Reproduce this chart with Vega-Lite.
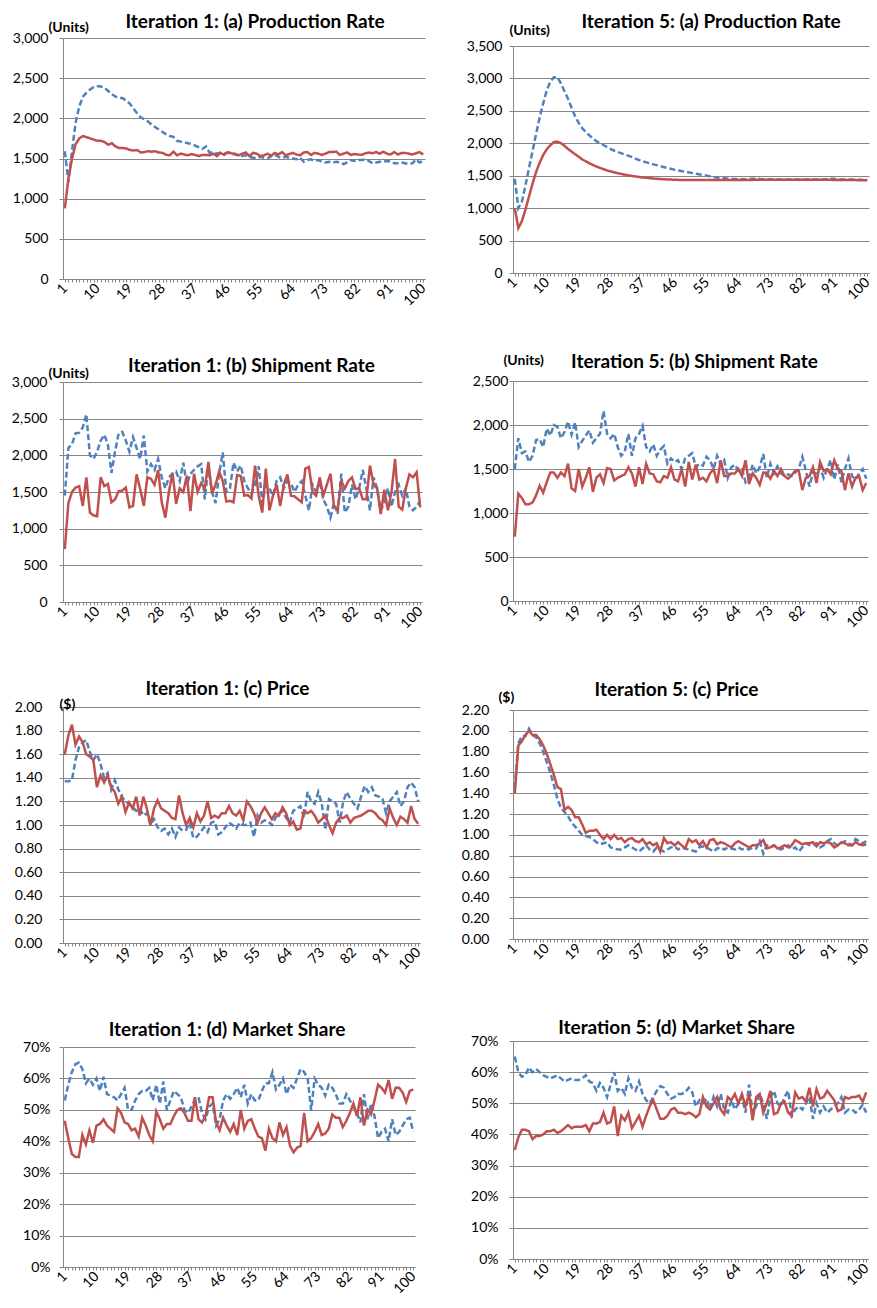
{
"$schema":"https://vega.github.io/schema/vega-lite/v6.json",
"padding":{"left":11,"top":12,"right":4,"bottom":4},
"config":{"font":"Lato","view":{"stroke":null},
"title":{"fontSize":19,"fontWeight":"bold","font":"Lato","color":"#000","frame":"group","anchor":"middle"},
"axis":{"labelFont":"Lato","labelFontSize":14,"labelColor":"#000","domainColor":"#868686","tickColor":"#868686","gridColor":"#868686","titleFont":"Lato","titleFontSize":14,"titleFontWeight":"bold","titleColor":"#000"},
"axisY":{"grid":true,"tickSize":4},
"axisX":{"grid":false,"tickSize":3,"labelPadding":4}},
"datasets":{
"a1":[{"t":1,"b":1590,"r":880},{"t":2,"b":1210,"r":1250},{"t":3,"b":1600,"r":1500},{"t":4,"b":1950,"r":1680},{"t":5,"b":2150,"r":1750},{"t":6,"b":2270,"r":1780},{"t":7,"b":2320,"r":1765},{"t":8,"b":2360,"r":1750},{"t":9,"b":2390,"r":1735},{"t":10,"b":2400,"r":1720},{"t":11,"b":2395,"r":1720},{"t":12,"b":2380,"r":1705},{"t":13,"b":2340,"r":1670},{"t":14,"b":2300,"r":1690},{"t":15,"b":2270,"r":1650},{"t":16,"b":2260,"r":1630},{"t":17,"b":2250,"r":1630},{"t":18,"b":2220,"r":1625},{"t":19,"b":2180,"r":1605},{"t":20,"b":2120,"r":1600},{"t":21,"b":2060,"r":1605},{"t":22,"b":2010,"r":1575},{"t":23,"b":1990,"r":1580},{"t":24,"b":1960,"r":1590},{"t":25,"b":1920,"r":1585},{"t":26,"b":1890,"r":1590},{"t":27,"b":1860,"r":1575},{"t":28,"b":1830,"r":1570},{"t":29,"b":1800,"r":1545},{"t":30,"b":1780,"r":1540},{"t":31,"b":1770,"r":1585},{"t":32,"b":1720,"r":1540},{"t":33,"b":1710,"r":1560},{"t":34,"b":1700,"r":1550},{"t":35,"b":1690,"r":1540},{"t":36,"b":1680,"r":1555},{"t":37,"b":1660,"r":1545},{"t":38,"b":1640,"r":1530},{"t":39,"b":1620,"r":1545},{"t":40,"b":1650,"r":1545},{"t":41,"b":1570,"r":1540},{"t":42,"b":1580,"r":1560},{"t":43,"b":1560,"r":1530},{"t":44,"b":1570,"r":1570},{"t":45,"b":1560,"r":1545},{"t":46,"b":1570,"r":1580},{"t":47,"b":1560,"r":1565},{"t":48,"b":1550,"r":1560},{"t":49,"b":1540,"r":1540},{"t":50,"b":1530,"r":1560},{"t":51,"b":1540,"r":1575},{"t":52,"b":1520,"r":1530},{"t":53,"b":1510,"r":1570},{"t":54,"b":1500,"r":1560},{"t":55,"b":1520,"r":1530},{"t":56,"b":1510,"r":1540},{"t":57,"b":1500,"r":1560},{"t":58,"b":1530,"r":1535},{"t":59,"b":1550,"r":1570},{"t":60,"b":1520,"r":1550},{"t":61,"b":1510,"r":1580},{"t":62,"b":1520,"r":1540},{"t":63,"b":1510,"r":1555},{"t":64,"b":1500,"r":1570},{"t":65,"b":1490,"r":1550},{"t":66,"b":1510,"r":1540},{"t":67,"b":1460,"r":1575},{"t":68,"b":1480,"r":1580},{"t":69,"b":1490,"r":1545},{"t":70,"b":1470,"r":1570},{"t":71,"b":1480,"r":1560},{"t":72,"b":1460,"r":1545},{"t":73,"b":1450,"r":1560},{"t":74,"b":1460,"r":1580},{"t":75,"b":1450,"r":1580},{"t":76,"b":1460,"r":1585},{"t":77,"b":1450,"r":1545},{"t":78,"b":1430,"r":1560},{"t":79,"b":1450,"r":1575},{"t":80,"b":1480,"r":1545},{"t":81,"b":1470,"r":1555},{"t":82,"b":1480,"r":1550},{"t":83,"b":1480,"r":1545},{"t":84,"b":1490,"r":1565},{"t":85,"b":1470,"r":1575},{"t":86,"b":1440,"r":1565},{"t":87,"b":1450,"r":1580},{"t":88,"b":1460,"r":1560},{"t":89,"b":1460,"r":1585},{"t":90,"b":1470,"r":1560},{"t":91,"b":1460,"r":1550},{"t":92,"b":1440,"r":1580},{"t":93,"b":1440,"r":1550},{"t":94,"b":1450,"r":1570},{"t":95,"b":1440,"r":1570},{"t":96,"b":1430,"r":1560},{"t":97,"b":1440,"r":1550},{"t":98,"b":1490,"r":1565},{"t":99,"b":1450,"r":1580},{"t":100,"b":1470,"r":1550}],
"a5":[{"t":1,"b":1450,"r":1000},{"t":2,"b":1000,"r":693},{"t":3,"b":1100,"r":800},{"t":4,"b":1350,"r":980},{"t":5,"b":1620,"r":1180},{"t":6,"b":1880,"r":1380},{"t":7,"b":2150,"r":1560},{"t":8,"b":2400,"r":1700},{"t":9,"b":2620,"r":1820},{"t":10,"b":2820,"r":1910},{"t":11,"b":2950,"r":1970},{"t":12,"b":3020,"r":2020},{"t":13,"b":3020,"r":2025},{"t":14,"b":2920,"r":2000},{"t":15,"b":2800,"r":1960},{"t":16,"b":2680,"r":1910},{"t":17,"b":2540,"r":1870},{"t":18,"b":2410,"r":1830},{"t":19,"b":2310,"r":1790},{"t":20,"b":2230,"r":1750},{"t":21,"b":2170,"r":1720},{"t":22,"b":2120,"r":1690},{"t":23,"b":2070,"r":1665},{"t":24,"b":2030,"r":1640},{"t":25,"b":2000,"r":1620},{"t":26,"b":1970,"r":1600},{"t":27,"b":1940,"r":1580},{"t":28,"b":1910,"r":1565},{"t":29,"b":1885,"r":1550},{"t":30,"b":1865,"r":1538},{"t":31,"b":1845,"r":1526},{"t":32,"b":1825,"r":1515},{"t":33,"b":1805,"r":1505},{"t":34,"b":1785,"r":1496},{"t":35,"b":1760,"r":1488},{"t":36,"b":1740,"r":1480},{"t":37,"b":1720,"r":1473},{"t":38,"b":1705,"r":1467},{"t":39,"b":1690,"r":1461},{"t":40,"b":1675,"r":1456},{"t":41,"b":1660,"r":1452},{"t":42,"b":1645,"r":1448},{"t":43,"b":1630,"r":1445},{"t":44,"b":1615,"r":1442},{"t":45,"b":1605,"r":1440},{"t":46,"b":1590,"r":1438},{"t":47,"b":1580,"r":1436},{"t":48,"b":1570,"r":1435},{"t":49,"b":1560,"r":1434},{"t":50,"b":1550,"r":1434},{"t":51,"b":1540,"r":1433},{"t":52,"b":1530,"r":1433},{"t":53,"b":1520,"r":1433},{"t":54,"b":1510,"r":1433},{"t":55,"b":1500,"r":1433},{"t":56,"b":1490,"r":1433},{"t":57,"b":1480,"r":1433},{"t":58,"b":1470,"r":1433},{"t":59,"b":1465,"r":1433},{"t":60,"b":1460,"r":1433},{"t":61,"b":1455,"r":1434},{"t":62,"b":1450,"r":1434},{"t":63,"b":1448,"r":1434},{"t":64,"b":1446,"r":1434},{"t":65,"b":1445,"r":1435},{"t":66,"b":1445,"r":1435},{"t":67,"b":1448,"r":1435},{"t":68,"b":1452,"r":1436},{"t":69,"b":1455,"r":1436},{"t":70,"b":1450,"r":1436},{"t":71,"b":1447,"r":1436},{"t":72,"b":1445,"r":1436},{"t":73,"b":1445,"r":1436},{"t":74,"b":1444,"r":1436},{"t":75,"b":1443,"r":1436},{"t":76,"b":1442,"r":1436},{"t":77,"b":1442,"r":1436},{"t":78,"b":1441,"r":1436},{"t":79,"b":1441,"r":1436},{"t":80,"b":1440,"r":1436},{"t":81,"b":1440,"r":1436},{"t":82,"b":1440,"r":1436},{"t":83,"b":1440,"r":1436},{"t":84,"b":1440,"r":1436},{"t":85,"b":1440,"r":1436},{"t":86,"b":1441,"r":1436},{"t":87,"b":1442,"r":1436},{"t":88,"b":1444,"r":1436},{"t":89,"b":1450,"r":1436},{"t":90,"b":1452,"r":1436},{"t":91,"b":1448,"r":1435},{"t":92,"b":1444,"r":1435},{"t":93,"b":1442,"r":1435},{"t":94,"b":1440,"r":1434},{"t":95,"b":1440,"r":1434},{"t":96,"b":1440,"r":1433},{"t":97,"b":1440,"r":1432},{"t":98,"b":1438,"r":1432},{"t":99,"b":1438,"r":1431},{"t":100,"b":1438,"r":1430}],
"b1":[{"t":1,"b":1450,"r":720},{"t":2,"b":2100,"r":1350},{"t":3,"b":2150,"r":1500},{"t":4,"b":2300,"r":1560},{"t":5,"b":2310,"r":1580},{"t":6,"b":2380,"r":1310},{"t":7,"b":2560,"r":1700},{"t":8,"b":2000,"r":1220},{"t":9,"b":1950,"r":1180},{"t":10,"b":2050,"r":1170},{"t":11,"b":2200,"r":1700},{"t":12,"b":2280,"r":1580},{"t":13,"b":2150,"r":1610},{"t":14,"b":1760,"r":1360},{"t":15,"b":2050,"r":1400},{"t":16,"b":2300,"r":1510},{"t":17,"b":2320,"r":1520},{"t":18,"b":2200,"r":1560},{"t":19,"b":2050,"r":1290},{"t":20,"b":2250,"r":1310},{"t":21,"b":2100,"r":1740},{"t":22,"b":1950,"r":1540},{"t":23,"b":2270,"r":1310},{"t":24,"b":1780,"r":1700},{"t":25,"b":1880,"r":1680},{"t":26,"b":1800,"r":1600},{"t":27,"b":1950,"r":1800},{"t":28,"b":1700,"r":1360},{"t":29,"b":1550,"r":1150},{"t":30,"b":1700,"r":1500},{"t":31,"b":1750,"r":1760},{"t":32,"b":1780,"r":1340},{"t":33,"b":1650,"r":1550},{"t":34,"b":1900,"r":1500},{"t":35,"b":1600,"r":1720},{"t":36,"b":1750,"r":1240},{"t":37,"b":1800,"r":1750},{"t":38,"b":1850,"r":1500},{"t":39,"b":1880,"r":1620},{"t":40,"b":1400,"r":1550},{"t":41,"b":1850,"r":1910},{"t":42,"b":1500,"r":1480},{"t":43,"b":1350,"r":1600},{"t":44,"b":1750,"r":1780},{"t":45,"b":2040,"r":1650},{"t":46,"b":1500,"r":1370},{"t":47,"b":1550,"r":1380},{"t":48,"b":1900,"r":1360},{"t":49,"b":1780,"r":1730},{"t":50,"b":1860,"r":1720},{"t":51,"b":1650,"r":1450},{"t":52,"b":1550,"r":1460},{"t":53,"b":1480,"r":1410},{"t":54,"b":1600,"r":1860},{"t":55,"b":1850,"r":1450},{"t":56,"b":1350,"r":1220},{"t":57,"b":1600,"r":1820},{"t":58,"b":1550,"r":1250},{"t":59,"b":1450,"r":1450},{"t":60,"b":1650,"r":1600},{"t":61,"b":1700,"r":1310},{"t":62,"b":1550,"r":1600},{"t":63,"b":1650,"r":1740},{"t":64,"b":1620,"r":1450},{"t":65,"b":1500,"r":1440},{"t":66,"b":1600,"r":1400},{"t":67,"b":1650,"r":1360},{"t":68,"b":1450,"r":1820},{"t":69,"b":1250,"r":1840},{"t":70,"b":1600,"r":1500},{"t":71,"b":1500,"r":1450},{"t":72,"b":1650,"r":1700},{"t":73,"b":1400,"r":1450},{"t":74,"b":1300,"r":1600},{"t":75,"b":1150,"r":1750},{"t":76,"b":1350,"r":1300},{"t":77,"b":1200,"r":1260},{"t":78,"b":1750,"r":1640},{"t":79,"b":1220,"r":1550},{"t":80,"b":1300,"r":1650},{"t":81,"b":1600,"r":1700},{"t":82,"b":1400,"r":1540},{"t":83,"b":1550,"r":1550},{"t":84,"b":1800,"r":1400},{"t":85,"b":1550,"r":1400},{"t":86,"b":1250,"r":1860},{"t":87,"b":1700,"r":1600},{"t":88,"b":1550,"r":1550},{"t":89,"b":1250,"r":1200},{"t":90,"b":1350,"r":1530},{"t":91,"b":1550,"r":1250},{"t":92,"b":1300,"r":1500},{"t":93,"b":1500,"r":1950},{"t":94,"b":1600,"r":1300},{"t":95,"b":1450,"r":1260},{"t":96,"b":1550,"r":1550},{"t":97,"b":1300,"r":1740},{"t":98,"b":1250,"r":1700},{"t":99,"b":1300,"r":1770},{"t":100,"b":1380,"r":1290}],
"b5":[{"t":1,"b":1500,"r":730},{"t":2,"b":1850,"r":1220},{"t":3,"b":1680,"r":1170},{"t":4,"b":1700,"r":1100},{"t":5,"b":1580,"r":1100},{"t":6,"b":1650,"r":1120},{"t":7,"b":1830,"r":1200},{"t":8,"b":1840,"r":1310},{"t":9,"b":1750,"r":1230},{"t":10,"b":1960,"r":1350},{"t":11,"b":1880,"r":1460},{"t":12,"b":2000,"r":1460},{"t":13,"b":1980,"r":1400},{"t":14,"b":1850,"r":1460},{"t":15,"b":1920,"r":1420},{"t":16,"b":2040,"r":1560},{"t":17,"b":1890,"r":1280},{"t":18,"b":2030,"r":1250},{"t":19,"b":1750,"r":1500},{"t":20,"b":1820,"r":1300},{"t":21,"b":1880,"r":1400},{"t":22,"b":1940,"r":1520},{"t":23,"b":1800,"r":1240},{"t":24,"b":1850,"r":1400},{"t":25,"b":1900,"r":1440},{"t":26,"b":2160,"r":1340},{"t":27,"b":1900,"r":1510},{"t":28,"b":1850,"r":1500},{"t":29,"b":1900,"r":1370},{"t":30,"b":1750,"r":1400},{"t":31,"b":1650,"r":1420},{"t":32,"b":1700,"r":1440},{"t":33,"b":1900,"r":1520},{"t":34,"b":1650,"r":1450},{"t":35,"b":1850,"r":1300},{"t":36,"b":1900,"r":1520},{"t":37,"b":1990,"r":1330},{"t":38,"b":1750,"r":1560},{"t":39,"b":1700,"r":1450},{"t":40,"b":1780,"r":1440},{"t":41,"b":1650,"r":1360},{"t":42,"b":1720,"r":1350},{"t":43,"b":1760,"r":1420},{"t":44,"b":1560,"r":1400},{"t":45,"b":1620,"r":1520},{"t":46,"b":1580,"r":1380},{"t":47,"b":1600,"r":1360},{"t":48,"b":1500,"r":1500},{"t":49,"b":1620,"r":1300},{"t":50,"b":1650,"r":1580},{"t":51,"b":1680,"r":1380},{"t":52,"b":1520,"r":1550},{"t":53,"b":1560,"r":1380},{"t":54,"b":1540,"r":1400},{"t":55,"b":1640,"r":1360},{"t":56,"b":1600,"r":1450},{"t":57,"b":1500,"r":1500},{"t":58,"b":1650,"r":1340},{"t":59,"b":1550,"r":1600},{"t":60,"b":1600,"r":1420},{"t":61,"b":1400,"r":1420},{"t":62,"b":1520,"r":1450},{"t":63,"b":1550,"r":1450},{"t":64,"b":1480,"r":1500},{"t":65,"b":1500,"r":1420},{"t":66,"b":1350,"r":1600},{"t":67,"b":1400,"r":1330},{"t":68,"b":1550,"r":1450},{"t":69,"b":1450,"r":1400},{"t":70,"b":1520,"r":1320},{"t":71,"b":1670,"r":1460},{"t":72,"b":1400,"r":1450},{"t":73,"b":1560,"r":1390},{"t":74,"b":1450,"r":1480},{"t":75,"b":1530,"r":1420},{"t":76,"b":1450,"r":1500},{"t":77,"b":1420,"r":1420},{"t":78,"b":1440,"r":1390},{"t":79,"b":1420,"r":1430},{"t":80,"b":1460,"r":1480},{"t":81,"b":1500,"r":1480},{"t":82,"b":1640,"r":1260},{"t":83,"b":1480,"r":1400},{"t":84,"b":1300,"r":1420},{"t":85,"b":1460,"r":1520},{"t":86,"b":1450,"r":1340},{"t":87,"b":1520,"r":1580},{"t":88,"b":1400,"r":1480},{"t":89,"b":1500,"r":1500},{"t":90,"b":1600,"r":1440},{"t":91,"b":1380,"r":1600},{"t":92,"b":1550,"r":1500},{"t":93,"b":1350,"r":1480},{"t":94,"b":1500,"r":1260},{"t":95,"b":1620,"r":1450},{"t":96,"b":1420,"r":1300},{"t":97,"b":1380,"r":1400},{"t":98,"b":1450,"r":1420},{"t":99,"b":1500,"r":1260},{"t":100,"b":1390,"r":1340}],
"c1":[{"t":1,"b":1.37,"r":1.6},{"t":2,"b":1.37,"r":1.76},{"t":3,"b":1.38,"r":1.85},{"t":4,"b":1.55,"r":1.68},{"t":5,"b":1.66,"r":1.75},{"t":6,"b":1.7,"r":1.7},{"t":7,"b":1.72,"r":1.6},{"t":8,"b":1.62,"r":1.58},{"t":9,"b":1.55,"r":1.55},{"t":10,"b":1.6,"r":1.32},{"t":11,"b":1.52,"r":1.42},{"t":12,"b":1.4,"r":1.36},{"t":13,"b":1.44,"r":1.42},{"t":14,"b":1.3,"r":1.32},{"t":15,"b":1.38,"r":1.28},{"t":16,"b":1.3,"r":1.18},{"t":17,"b":1.24,"r":1.24},{"t":18,"b":1.2,"r":1.11},{"t":19,"b":1.18,"r":1.19},{"t":20,"b":1.15,"r":1.14},{"t":21,"b":1.12,"r":1.24},{"t":22,"b":1.14,"r":1.08},{"t":23,"b":1.08,"r":1.24},{"t":24,"b":1.1,"r":1.14},{"t":25,"b":1.0,"r":1.0},{"t":26,"b":1.05,"r":1.14},{"t":27,"b":0.98,"r":1.21},{"t":28,"b":0.95,"r":1.14},{"t":29,"b":0.97,"r":1.12},{"t":30,"b":0.92,"r":1.1},{"t":31,"b":0.97,"r":1.06},{"t":32,"b":0.9,"r":1.05},{"t":33,"b":0.98,"r":1.25},{"t":34,"b":0.95,"r":1.1},{"t":35,"b":0.96,"r":1.0},{"t":36,"b":1.02,"r":1.06},{"t":37,"b":0.89,"r":0.98},{"t":38,"b":0.9,"r":1.1},{"t":39,"b":0.94,"r":1.03},{"t":40,"b":0.98,"r":1.08},{"t":41,"b":0.94,"r":1.2},{"t":42,"b":1.02,"r":1.06},{"t":43,"b":1.03,"r":1.08},{"t":44,"b":0.92,"r":1.06},{"t":45,"b":0.94,"r":1.1},{"t":46,"b":0.98,"r":1.1},{"t":47,"b":1.02,"r":1.16},{"t":48,"b":1.0,"r":1.1},{"t":49,"b":0.97,"r":1.08},{"t":50,"b":1.02,"r":1.12},{"t":51,"b":1.0,"r":1.04},{"t":52,"b":1.0,"r":1.2},{"t":53,"b":1.02,"r":1.16},{"t":54,"b":0.9,"r":1.1},{"t":55,"b":1.08,"r":1.02},{"t":56,"b":1.02,"r":1.1},{"t":57,"b":1.04,"r":1.15},{"t":58,"b":1.03,"r":1.1},{"t":59,"b":1.0,"r":1.05},{"t":60,"b":1.06,"r":1.1},{"t":61,"b":1.1,"r":1.08},{"t":62,"b":1.12,"r":1.15},{"t":63,"b":1.06,"r":1.1},{"t":64,"b":1.02,"r":1.0},{"t":65,"b":1.12,"r":1.03},{"t":66,"b":1.14,"r":0.96},{"t":67,"b":1.16,"r":0.97},{"t":68,"b":1.06,"r":1.12},{"t":69,"b":1.28,"r":1.1},{"t":70,"b":1.2,"r":1.12},{"t":71,"b":1.18,"r":1.08},{"t":72,"b":1.28,"r":1.02},{"t":73,"b":1.18,"r":1.05},{"t":74,"b":0.96,"r":1.08},{"t":75,"b":1.22,"r":1.0},{"t":76,"b":1.2,"r":0.93},{"t":77,"b":1.18,"r":1.02},{"t":78,"b":1.02,"r":1.06},{"t":79,"b":1.2,"r":1.06},{"t":80,"b":1.28,"r":1.08},{"t":81,"b":1.22,"r":1.02},{"t":82,"b":1.18,"r":1.06},{"t":83,"b":1.14,"r":1.07},{"t":84,"b":1.24,"r":1.08},{"t":85,"b":1.33,"r":1.1},{"t":86,"b":1.28,"r":1.12},{"t":87,"b":1.32,"r":1.12},{"t":88,"b":1.25,"r":1.1},{"t":89,"b":1.24,"r":1.06},{"t":90,"b":1.22,"r":1.04},{"t":91,"b":1.1,"r":1.0},{"t":92,"b":1.2,"r":1.14},{"t":93,"b":1.24,"r":1.06},{"t":94,"b":1.28,"r":1.0},{"t":95,"b":1.16,"r":1.07},{"t":96,"b":1.2,"r":1.05},{"t":97,"b":1.32,"r":1.02},{"t":98,"b":1.36,"r":1.16},{"t":99,"b":1.32,"r":1.05},{"t":100,"b":1.2,"r":1.01}],
"c5":[{"t":1,"b":1.45,"r":1.4},{"t":2,"b":1.88,"r":1.86},{"t":3,"b":1.95,"r":1.9},{"t":4,"b":1.95,"r":1.96},{"t":5,"b":2.02,"r":2.0},{"t":6,"b":1.96,"r":1.96},{"t":7,"b":1.94,"r":1.96},{"t":8,"b":1.88,"r":1.92},{"t":9,"b":1.8,"r":1.86},{"t":10,"b":1.7,"r":1.78},{"t":11,"b":1.6,"r":1.68},{"t":12,"b":1.48,"r":1.58},{"t":13,"b":1.35,"r":1.46},{"t":14,"b":1.26,"r":1.44},{"t":15,"b":1.22,"r":1.24},{"t":16,"b":1.18,"r":1.27},{"t":17,"b":1.12,"r":1.24},{"t":18,"b":1.08,"r":1.17},{"t":19,"b":1.04,"r":1.17},{"t":20,"b":1.0,"r":1.1},{"t":21,"b":0.99,"r":1.02},{"t":22,"b":0.98,"r":1.04},{"t":23,"b":0.96,"r":1.04},{"t":24,"b":0.93,"r":1.05},{"t":25,"b":0.91,"r":1.0},{"t":26,"b":0.92,"r":0.96},{"t":27,"b":0.93,"r":1.0},{"t":28,"b":0.88,"r":0.96},{"t":29,"b":0.87,"r":1.0},{"t":30,"b":0.86,"r":0.96},{"t":31,"b":0.86,"r":0.97},{"t":32,"b":0.88,"r":0.93},{"t":33,"b":0.9,"r":0.96},{"t":34,"b":0.88,"r":0.97},{"t":35,"b":0.86,"r":0.94},{"t":36,"b":0.84,"r":0.93},{"t":37,"b":0.87,"r":0.96},{"t":38,"b":0.9,"r":0.91},{"t":39,"b":0.86,"r":0.93},{"t":40,"b":0.84,"r":0.9},{"t":41,"b":0.88,"r":0.92},{"t":42,"b":0.86,"r":0.84},{"t":43,"b":0.84,"r":0.97},{"t":44,"b":0.86,"r":0.92},{"t":45,"b":0.88,"r":0.93},{"t":46,"b":0.89,"r":0.9},{"t":47,"b":0.86,"r":0.93},{"t":48,"b":0.88,"r":0.9},{"t":49,"b":0.87,"r":0.87},{"t":50,"b":0.86,"r":0.96},{"t":51,"b":0.85,"r":0.93},{"t":52,"b":0.84,"r":0.95},{"t":53,"b":0.88,"r":0.9},{"t":54,"b":0.89,"r":0.94},{"t":55,"b":0.88,"r":0.88},{"t":56,"b":0.86,"r":0.95},{"t":57,"b":0.84,"r":0.96},{"t":58,"b":0.87,"r":0.91},{"t":59,"b":0.88,"r":0.93},{"t":60,"b":0.86,"r":0.92},{"t":61,"b":0.88,"r":0.9},{"t":62,"b":0.87,"r":0.88},{"t":63,"b":0.86,"r":0.92},{"t":64,"b":0.88,"r":0.94},{"t":65,"b":0.86,"r":0.92},{"t":66,"b":0.87,"r":0.9},{"t":67,"b":0.86,"r":0.88},{"t":68,"b":0.88,"r":0.9},{"t":69,"b":0.87,"r":0.9},{"t":70,"b":0.94,"r":0.92},{"t":71,"b":0.82,"r":0.95},{"t":72,"b":0.9,"r":0.87},{"t":73,"b":0.88,"r":0.88},{"t":74,"b":0.9,"r":0.9},{"t":75,"b":0.88,"r":0.87},{"t":76,"b":0.86,"r":0.88},{"t":77,"b":0.88,"r":0.9},{"t":78,"b":0.9,"r":0.88},{"t":79,"b":0.86,"r":0.9},{"t":80,"b":0.88,"r":0.95},{"t":81,"b":0.84,"r":0.93},{"t":82,"b":0.88,"r":0.91},{"t":83,"b":0.92,"r":0.92},{"t":84,"b":0.9,"r":0.92},{"t":85,"b":0.9,"r":0.93},{"t":86,"b":0.92,"r":0.89},{"t":87,"b":0.88,"r":0.93},{"t":88,"b":0.9,"r":0.92},{"t":89,"b":0.94,"r":0.93},{"t":90,"b":0.96,"r":0.92},{"t":91,"b":0.92,"r":0.88},{"t":92,"b":0.9,"r":0.9},{"t":93,"b":0.92,"r":0.93},{"t":94,"b":0.94,"r":0.92},{"t":95,"b":0.92,"r":0.9},{"t":96,"b":0.9,"r":0.9},{"t":97,"b":0.96,"r":0.93},{"t":98,"b":0.94,"r":0.91},{"t":99,"b":0.92,"r":0.9},{"t":100,"b":0.94,"r":0.91}],
"d1":[{"t":1,"b":0.53,"r":0.465},{"t":2,"b":0.58,"r":0.41},{"t":3,"b":0.62,"r":0.36},{"t":4,"b":0.645,"r":0.35},{"t":5,"b":0.65,"r":0.35},{"t":6,"b":0.63,"r":0.42},{"t":7,"b":0.585,"r":0.39},{"t":8,"b":0.6,"r":0.435},{"t":9,"b":0.58,"r":0.395},{"t":10,"b":0.6,"r":0.45},{"t":11,"b":0.56,"r":0.455},{"t":12,"b":0.605,"r":0.47},{"t":13,"b":0.55,"r":0.45},{"t":14,"b":0.545,"r":0.44},{"t":15,"b":0.54,"r":0.43},{"t":16,"b":0.53,"r":0.505},{"t":17,"b":0.55,"r":0.49},{"t":18,"b":0.57,"r":0.46},{"t":19,"b":0.5,"r":0.455},{"t":20,"b":0.5,"r":0.435},{"t":21,"b":0.53,"r":0.44},{"t":22,"b":0.55,"r":0.415},{"t":23,"b":0.56,"r":0.475},{"t":24,"b":0.56,"r":0.45},{"t":25,"b":0.57,"r":0.42},{"t":26,"b":0.53,"r":0.4},{"t":27,"b":0.58,"r":0.495},{"t":28,"b":0.52,"r":0.47},{"t":29,"b":0.59,"r":0.44},{"t":30,"b":0.5,"r":0.455},{"t":31,"b":0.53,"r":0.455},{"t":32,"b":0.56,"r":0.48},{"t":33,"b":0.55,"r":0.5},{"t":34,"b":0.54,"r":0.505},{"t":35,"b":0.5,"r":0.49},{"t":36,"b":0.49,"r":0.465},{"t":37,"b":0.51,"r":0.465},{"t":38,"b":0.535,"r":0.54},{"t":39,"b":0.54,"r":0.47},{"t":40,"b":0.49,"r":0.46},{"t":41,"b":0.47,"r":0.48},{"t":42,"b":0.51,"r":0.54},{"t":43,"b":0.52,"r":0.54},{"t":44,"b":0.45,"r":0.46},{"t":45,"b":0.47,"r":0.435},{"t":46,"b":0.53,"r":0.475},{"t":47,"b":0.55,"r":0.45},{"t":48,"b":0.535,"r":0.43},{"t":49,"b":0.55,"r":0.455},{"t":50,"b":0.57,"r":0.42},{"t":51,"b":0.54,"r":0.5},{"t":52,"b":0.58,"r":0.44},{"t":53,"b":0.52,"r":0.465},{"t":54,"b":0.55,"r":0.47},{"t":55,"b":0.53,"r":0.44},{"t":56,"b":0.53,"r":0.415},{"t":57,"b":0.56,"r":0.41},{"t":58,"b":0.585,"r":0.37},{"t":59,"b":0.585,"r":0.44},{"t":60,"b":0.62,"r":0.41},{"t":61,"b":0.565,"r":0.4},{"t":62,"b":0.58,"r":0.46},{"t":63,"b":0.6,"r":0.42},{"t":64,"b":0.55,"r":0.445},{"t":65,"b":0.58,"r":0.385},{"t":66,"b":0.57,"r":0.365},{"t":67,"b":0.6,"r":0.38},{"t":68,"b":0.63,"r":0.385},{"t":69,"b":0.62,"r":0.49},{"t":70,"b":0.6,"r":0.4},{"t":71,"b":0.5,"r":0.41},{"t":72,"b":0.6,"r":0.43},{"t":73,"b":0.58,"r":0.455},{"t":74,"b":0.57,"r":0.42},{"t":75,"b":0.545,"r":0.425},{"t":76,"b":0.58,"r":0.44},{"t":77,"b":0.57,"r":0.485},{"t":78,"b":0.55,"r":0.475},{"t":79,"b":0.52,"r":0.475},{"t":80,"b":0.52,"r":0.445},{"t":81,"b":0.55,"r":0.465},{"t":82,"b":0.53,"r":0.49},{"t":83,"b":0.51,"r":0.52},{"t":84,"b":0.49,"r":0.48},{"t":85,"b":0.46,"r":0.54},{"t":86,"b":0.55,"r":0.45},{"t":87,"b":0.47,"r":0.5},{"t":88,"b":0.52,"r":0.485},{"t":89,"b":0.48,"r":0.53},{"t":90,"b":0.41,"r":0.58},{"t":91,"b":0.43,"r":0.57},{"t":92,"b":0.44,"r":0.555},{"t":93,"b":0.4,"r":0.595},{"t":94,"b":0.47,"r":0.535},{"t":95,"b":0.42,"r":0.57},{"t":96,"b":0.43,"r":0.57},{"t":97,"b":0.45,"r":0.555},{"t":98,"b":0.47,"r":0.525},{"t":99,"b":0.475,"r":0.56},{"t":100,"b":0.43,"r":0.565}],
"d5":[{"t":1,"b":0.65,"r":0.35},{"t":2,"b":0.6,"r":0.39},{"t":3,"b":0.585,"r":0.415},{"t":4,"b":0.59,"r":0.415},{"t":5,"b":0.615,"r":0.41},{"t":6,"b":0.6,"r":0.385},{"t":7,"b":0.61,"r":0.395},{"t":8,"b":0.6,"r":0.395},{"t":9,"b":0.59,"r":0.4},{"t":10,"b":0.585,"r":0.41},{"t":11,"b":0.58,"r":0.41},{"t":12,"b":0.585,"r":0.415},{"t":13,"b":0.59,"r":0.405},{"t":14,"b":0.58,"r":0.41},{"t":15,"b":0.57,"r":0.42},{"t":16,"b":0.575,"r":0.43},{"t":17,"b":0.58,"r":0.42},{"t":18,"b":0.575,"r":0.425},{"t":19,"b":0.575,"r":0.425},{"t":20,"b":0.58,"r":0.425},{"t":21,"b":0.59,"r":0.43},{"t":22,"b":0.57,"r":0.41},{"t":23,"b":0.565,"r":0.435},{"t":24,"b":0.54,"r":0.435},{"t":25,"b":0.565,"r":0.44},{"t":26,"b":0.55,"r":0.47},{"t":27,"b":0.52,"r":0.435},{"t":28,"b":0.56,"r":0.44},{"t":29,"b":0.6,"r":0.49},{"t":30,"b":0.54,"r":0.395},{"t":31,"b":0.55,"r":0.46},{"t":32,"b":0.53,"r":0.445},{"t":33,"b":0.58,"r":0.47},{"t":34,"b":0.55,"r":0.42},{"t":35,"b":0.54,"r":0.44},{"t":36,"b":0.57,"r":0.46},{"t":37,"b":0.53,"r":0.425},{"t":38,"b":0.51,"r":0.46},{"t":39,"b":0.5,"r":0.49},{"t":40,"b":0.52,"r":0.51},{"t":41,"b":0.54,"r":0.48},{"t":42,"b":0.555,"r":0.45},{"t":43,"b":0.55,"r":0.45},{"t":44,"b":0.53,"r":0.46},{"t":45,"b":0.515,"r":0.48},{"t":46,"b":0.52,"r":0.485},{"t":47,"b":0.53,"r":0.47},{"t":48,"b":0.53,"r":0.47},{"t":49,"b":0.535,"r":0.465},{"t":50,"b":0.55,"r":0.47},{"t":51,"b":0.535,"r":0.465},{"t":52,"b":0.49,"r":0.455},{"t":53,"b":0.51,"r":0.465},{"t":54,"b":0.5,"r":0.52},{"t":55,"b":0.515,"r":0.49},{"t":56,"b":0.48,"r":0.48},{"t":57,"b":0.52,"r":0.5},{"t":58,"b":0.49,"r":0.52},{"t":59,"b":0.53,"r":0.48},{"t":60,"b":0.48,"r":0.465},{"t":61,"b":0.47,"r":0.52},{"t":62,"b":0.51,"r":0.51},{"t":63,"b":0.48,"r":0.53},{"t":64,"b":0.5,"r":0.5},{"t":65,"b":0.52,"r":0.53},{"t":66,"b":0.47,"r":0.49},{"t":67,"b":0.56,"r":0.53},{"t":68,"b":0.47,"r":0.445},{"t":69,"b":0.49,"r":0.52},{"t":70,"b":0.53,"r":0.53},{"t":71,"b":0.5,"r":0.47},{"t":72,"b":0.45,"r":0.5},{"t":73,"b":0.52,"r":0.54},{"t":74,"b":0.54,"r":0.465},{"t":75,"b":0.5,"r":0.47},{"t":76,"b":0.49,"r":0.5},{"t":77,"b":0.52,"r":0.505},{"t":78,"b":0.54,"r":0.47},{"t":79,"b":0.46,"r":0.46},{"t":80,"b":0.48,"r":0.535},{"t":81,"b":0.49,"r":0.515},{"t":82,"b":0.48,"r":0.52},{"t":83,"b":0.5,"r":0.505},{"t":84,"b":0.52,"r":0.55},{"t":85,"b":0.45,"r":0.49},{"t":86,"b":0.5,"r":0.545},{"t":87,"b":0.47,"r":0.515},{"t":88,"b":0.49,"r":0.52},{"t":89,"b":0.47,"r":0.54},{"t":90,"b":0.48,"r":0.525},{"t":91,"b":0.49,"r":0.51},{"t":92,"b":0.5,"r":0.475},{"t":93,"b":0.52,"r":0.48},{"t":94,"b":0.47,"r":0.52},{"t":95,"b":0.48,"r":0.515},{"t":96,"b":0.48,"r":0.52},{"t":97,"b":0.47,"r":0.52},{"t":98,"b":0.48,"r":0.525},{"t":99,"b":0.495,"r":0.505},{"t":100,"b":0.47,"r":0.535}]
},
"spacing":32,
"hconcat":[
{"spacing":0,"vconcat":[
{"width":1,"height":1,"data":{"values":[]},"mark":"point"},
{"spacing":48,"vconcat":[
{"width":362,"height":241,"title":{"text":"Iteration 1: (a) Production Rate","dx":11,"offset":-12},"data":{"name":"a1"},"transform":[{"fold":["b","r"],"as":["s","v"]}],"mark":{"type":"line","strokeWidth":2.5},
"encoding":{"x":{"field":"t","type":"quantitative","scale":{"domain":[0.5,100.5],"nice":false,"zero":false},"axis":{"tickCount":100,"labelExpr":"(datum.value-1)%9==0 ? datum.label : ''","labelAngle":-45,"labelAlign":"right","labelBaseline":"middle","labelOverlap":false,"title":null}},
"y":{"field":"v","type":"quantitative","scale":{"domain":[0,3000],"nice":false},"axis":{"values":[0,500,1000,1500,2000,2500,3000],"format":",.0f","labelPadding":11,"title":"(Units)","titleAngle":0,"titleAlign":"left","titleBaseline":"alphabetic","titleX":-15,"titleY":-7}},
"color":{"field":"s","type":"nominal","scale":{"domain":["b","r"],"range":["#4F81BD","#C0504D"]},"legend":null},
"strokeDash":{"field":"s","type":"nominal","scale":{"domain":["b","r"],"range":[[6,3],[1,0]]},"legend":null}}},
{"width":359,"height":220,"title":{"text":"Iteration 1: (b) Shipment Rate","dx":9,"offset":-10},"data":{"name":"b1"},"transform":[{"fold":["b","r"],"as":["s","v"]}],"mark":{"type":"line","strokeWidth":2.5},
"encoding":{"x":{"field":"t","type":"quantitative","scale":{"domain":[0.5,100.5],"nice":false,"zero":false},"axis":{"tickCount":100,"labelExpr":"(datum.value-1)%9==0 ? datum.label : ''","labelAngle":-45,"labelAlign":"right","labelBaseline":"middle","labelOverlap":false,"title":null}},
"y":{"field":"v","type":"quantitative","scale":{"domain":[0,3000],"nice":false},"axis":{"values":[0,500,1000,1500,2000,2500,3000],"format":",.0f","labelPadding":12,"title":"(Units)","titleAngle":0,"titleAlign":"left","titleBaseline":"alphabetic","titleX":-15,"titleY":-5}},
"color":{"field":"s","type":"nominal","scale":{"domain":["b","r"],"range":["#4F81BD","#C0504D"]},"legend":null},
"strokeDash":{"field":"s","type":"nominal","scale":{"domain":["b","r"],"range":[[6,3],[1,0]]},"legend":null}}},
{"width":357,"height":236,"title":{"text":"Iteration 1: (c) Price","dx":-14,"offset":-2},"data":{"name":"c1"},"transform":[{"fold":["b","r"],"as":["s","v"]}],"mark":{"type":"line","strokeWidth":2.5},
"encoding":{"x":{"field":"t","type":"quantitative","scale":{"domain":[0.5,100.5],"nice":false,"zero":false},"axis":{"tickCount":100,"labelExpr":"(datum.value-1)%9==0 ? datum.label : ''","labelAngle":-45,"labelAlign":"right","labelBaseline":"middle","labelOverlap":false,"title":null}},
"y":{"field":"v","type":"quantitative","scale":{"domain":[0,2],"nice":false},"axis":{"values":[0,0.2,0.4,0.6,0.8,1,1.2,1.4,1.6,1.8,2],"format":".2f","labelPadding":17,"title":"($)","titleAngle":0,"titleAlign":"left","titleBaseline":"alphabetic","titleX":-4,"titleY":1}},
"color":{"field":"s","type":"nominal","scale":{"domain":["b","r"],"range":["#4F81BD","#C0504D"]},"legend":null},
"strokeDash":{"field":"s","type":"nominal","scale":{"domain":["b","r"],"range":[[6,3],[1,0]]},"legend":null}}},
{"width":352,"height":220,"title":{"text":"Iteration 1: (d) Market Share","dx":-12,"offset":0},"data":{"name":"d1"},"transform":[{"fold":["b","r"],"as":["s","v"]}],"mark":{"type":"line","strokeWidth":2.5},
"encoding":{"x":{"field":"t","type":"quantitative","scale":{"domain":[0.5,100.5],"nice":false,"zero":false},"axis":{"tickCount":100,"labelExpr":"(datum.value-1)%9==0 ? datum.label : ''","labelAngle":-45,"labelAlign":"right","labelBaseline":"middle","labelOverlap":false,"title":null}},
"y":{"field":"v","type":"quantitative","scale":{"domain":[0,0.7],"nice":false},"axis":{"values":[0,0.1,0.2,0.3,0.4,0.5,0.6,0.7],"format":".0%","labelPadding":9,"title":null}},
"color":{"field":"s","type":"nominal","scale":{"domain":["b","r"],"range":["#4F81BD","#C0504D"]},"legend":null},
"strokeDash":{"field":"s","type":"nominal","scale":{"domain":["b","r"],"range":[[6,3],[1,0]]},"legend":null}}}
]}]},
{"spacing":0,"vconcat":[
{"width":1,"height":1,"data":{"values":[]},"mark":"point"},
{"spacing":50,"vconcat":[
{"width":356,"height":227,"title":{"text":"Iteration 5: (a) Production Rate","dx":20,"offset":-9},"data":{"name":"a5"},"transform":[{"fold":["b","r"],"as":["s","v"]}],"mark":{"type":"line","strokeWidth":2.5},
"encoding":{"x":{"field":"t","type":"quantitative","scale":{"domain":[0.5,100.5],"nice":false,"zero":false},"axis":{"tickCount":100,"labelExpr":"(datum.value-1)%9==0 ? datum.label : ''","labelAngle":-45,"labelAlign":"right","labelBaseline":"middle","labelOverlap":false,"title":null}},
"y":{"field":"v","type":"quantitative","scale":{"domain":[0,3500],"nice":false},"axis":{"values":[0,500,1000,1500,2000,2500,3000,3500],"format":",.0f","labelPadding":7,"title":"(Units)","titleAngle":0,"titleAlign":"left","titleBaseline":"alphabetic","titleX":-4,"titleY":-12}},
"color":{"field":"s","type":"nominal","scale":{"domain":["b","r"],"range":["#4F81BD","#C0504D"]},"legend":null},
"strokeDash":{"field":"s","type":"nominal","scale":{"domain":["b","r"],"range":[[6,3],[1,0]]},"legend":null}}},
{"width":355,"height":220,"title":{"text":"Iteration 5: (b) Shipment Rate","dx":4,"offset":-19},"data":{"name":"b5"},"transform":[{"fold":["b","r"],"as":["s","v"]}],"mark":{"type":"line","strokeWidth":2.5},
"encoding":{"x":{"field":"t","type":"quantitative","scale":{"domain":[0.5,100.5],"nice":false,"zero":false},"axis":{"tickCount":100,"labelExpr":"(datum.value-1)%9==0 ? datum.label : ''","labelAngle":-45,"labelAlign":"right","labelBaseline":"middle","labelOverlap":false,"title":null}},
"y":{"field":"v","type":"quantitative","scale":{"domain":[0,2500],"nice":false},"axis":{"values":[0,500,1000,1500,2000,2500],"format":",.0f","labelPadding":1,"title":"(Units)","titleAngle":0,"titleAlign":"left","titleBaseline":"alphabetic","titleX":-10,"titleY":-17}},
"color":{"field":"s","type":"nominal","scale":{"domain":["b","r"],"range":["#4F81BD","#C0504D"]},"legend":null},
"strokeDash":{"field":"s","type":"nominal","scale":{"domain":["b","r"],"range":[[6,3],[1,0]]},"legend":null}}},
{"width":355,"height":229,"title":{"text":"Iteration 5: (c) Price","dx":-14,"offset":-10},"data":{"name":"c5"},"transform":[{"fold":["b","r"],"as":["s","v"]}],"mark":{"type":"line","strokeWidth":2.5},
"encoding":{"x":{"field":"t","type":"quantitative","scale":{"domain":[0.5,100.5],"nice":false,"zero":false},"axis":{"tickCount":100,"labelExpr":"(datum.value-1)%9==0 ? datum.label : ''","labelAngle":-45,"labelAlign":"right","labelBaseline":"middle","labelOverlap":false,"title":null}},
"y":{"field":"v","type":"quantitative","scale":{"domain":[0,2.2],"nice":false},"axis":{"values":[0,0.2,0.4,0.6,0.8,1,1.2,1.4,1.6,1.8,2,2.2],"format":".2f","labelPadding":20,"title":"($)","titleAngle":0,"titleAlign":"left","titleBaseline":"alphabetic","titleX":-15,"titleY":-9}},
"color":{"field":"s","type":"nominal","scale":{"domain":["b","r"],"range":["#4F81BD","#C0504D"]},"legend":null},
"strokeDash":{"field":"s","type":"nominal","scale":{"domain":["b","r"],"range":[[6,3],[1,0]]},"legend":null}}},
{"width":355,"height":218,"title":{"text":"Iteration 5: (d) Market Share","dx":-14,"offset":-4},"data":{"name":"d5"},"transform":[{"fold":["b","r"],"as":["s","v"]}],"mark":{"type":"line","strokeWidth":2.5},
"encoding":{"x":{"field":"t","type":"quantitative","scale":{"domain":[0.5,100.5],"nice":false,"zero":false},"axis":{"tickCount":100,"labelExpr":"(datum.value-1)%9==0 ? datum.label : ''","labelAngle":-45,"labelAlign":"right","labelBaseline":"middle","labelOverlap":false,"title":null}},
"y":{"field":"v","type":"quantitative","scale":{"domain":[0,0.7],"nice":false},"axis":{"values":[0,0.1,0.2,0.3,0.4,0.5,0.6,0.7],"format":".0%","labelPadding":11,"title":null}},
"color":{"field":"s","type":"nominal","scale":{"domain":["b","r"],"range":["#4F81BD","#C0504D"]},"legend":null},
"strokeDash":{"field":"s","type":"nominal","scale":{"domain":["b","r"],"range":[[6,3],[1,0]]},"legend":null}}}
]}]}
]
}
